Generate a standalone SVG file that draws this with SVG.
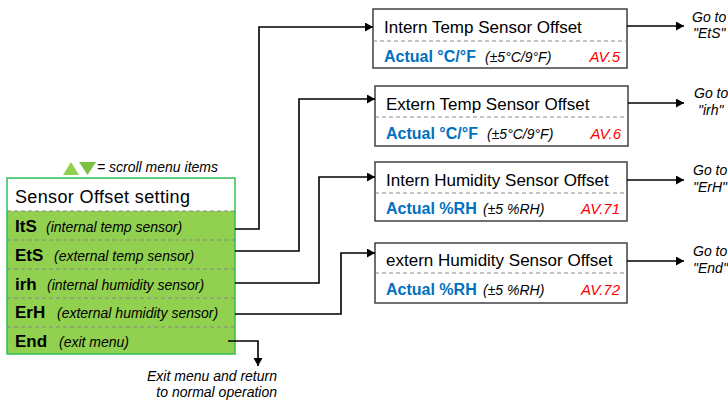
<svg xmlns="http://www.w3.org/2000/svg" width="728" height="402" viewBox="0 0 728 402">
<defs>
<marker id="ah" markerUnits="userSpaceOnUse" markerWidth="10" markerHeight="10" refX="8" refY="4.5" orient="auto">
<path d="M0,0 L8,4.5 L0,9 z" fill="#000"/>
</marker>
<style>
text{font-family:"Liberation Sans",Arial,sans-serif;}
.conn{fill:none;stroke:#000;stroke-width:1.6;marker-end:url(#ah);}
.box{fill:#fff;stroke:#404040;stroke-width:1.5;}
.dash{stroke:#888;stroke-width:1;stroke-dasharray:4,3;fill:none;}
.ttl{font-size:17px;fill:#000;}
.act{font-size:16px;font-weight:bold;fill:#0070C0;}
.rng{font-size:14px;font-style:italic;fill:#000;}
.av{font-size:15px;font-style:italic;fill:#FF0000;text-anchor:end;}
.go{font-size:14px;font-style:italic;fill:#000;}
.key{font-size:17px;font-weight:bold;fill:#000;}
.desc{font-size:14px;font-style:italic;fill:#000;}
</style>
</defs>
<rect width="728" height="402" fill="#fff"/>

<g id="menu">
<rect x="7" y="178" width="228" height="176" fill="#92D050"/>
<rect x="7" y="178" width="228" height="33" fill="#fff"/>
<line class="dash" x1="7" y1="211" x2="235" y2="211"/>
<line class="dash" x1="7" y1="240" x2="235" y2="240"/>
<line class="dash" x1="7" y1="269" x2="235" y2="269"/>
<line class="dash" x1="7" y1="298" x2="235" y2="298"/>
<line class="dash" x1="7" y1="327" x2="235" y2="327"/>
<rect x="7" y="178" width="228" height="176" fill="none" stroke="#2FBF55" stroke-width="1.5"/>
<text x="15" y="203" font-size="18" fill="#000" textLength="175">Sensor Offset setting</text>
<text x="15" y="232" class="key">ItS</text><text x="46" y="232" class="desc">(internal temp sensor)</text>
<text x="15" y="261" class="key">EtS</text><text x="54" y="261" class="desc">(external temp sensor)</text>
<text x="15" y="290" class="key">irh</text><text x="47" y="290" class="desc">(internal humidity sensor)</text>
<text x="15" y="318" class="key">ErH</text><text x="57" y="318" class="desc">(external humidity sensor)</text>
<text x="15" y="347" class="key">End</text><text x="59" y="347" class="desc">(exit menu)</text>
</g>

<g id="legend">
<polygon points="63,175 71,162 79,175" fill="#92D050"/>
<polygon points="79,162 96,162 87.5,175" fill="#7CC242"/>
<text x="97" y="172" font-size="14" font-style="italic" fill="#000">= scroll menu items</text>
</g>

<g id="exit-note">
<text x="277" y="381" font-size="14" font-style="italic" fill="#000" text-anchor="end">Exit menu and return</text>
<text x="277" y="397" font-size="14" font-style="italic" fill="#000" text-anchor="end">to normal operation</text>
</g>

<g id="box1">
<rect class="box" x="373" y="9" width="254" height="59"/>
<line class="dash" x1="373" y1="41" x2="627" y2="41"/>
<text class="ttl" x="384" y="33">Intern Temp Sensor Offset</text>
<text class="act" x="384" y="62">Actual °C/°F</text>
<text class="rng" x="485" y="62">(±5°C/9°F)</text>
<text class="av" x="620" y="62">AV.5</text>
</g>

<g id="box2">
<rect class="box" x="375" y="86" width="253" height="60"/>
<line class="dash" x1="375" y1="117" x2="628" y2="117"/>
<text class="ttl" x="386" y="110">Extern Temp Sensor Offset</text>
<text class="act" x="386" y="139">Actual °C/°F</text>
<text class="rng" x="487" y="139">(±5°C/9°F)</text>
<text class="av" x="621" y="139">AV.6</text>
</g>

<g id="box3">
<rect class="box" x="375" y="162" width="252" height="59"/>
<line class="dash" x1="375" y1="193" x2="627" y2="193"/>
<text class="ttl" x="386" y="186">Intern Humidity Sensor Offset</text>
<text class="act" x="386" y="214">Actual %RH</text>
<text class="rng" x="483" y="214">(±5 %RH)</text>
<text class="av" x="620" y="214">AV.71</text>
</g>

<g id="box4">
<rect class="box" x="375" y="243" width="252" height="60"/>
<line class="dash" x1="375" y1="273" x2="627" y2="273"/>
<text class="ttl" x="386" y="266">extern Humidity Sensor Offset</text>
<text class="act" x="386" y="295">Actual %RH</text>
<text class="rng" x="483" y="295">(±5 %RH)</text>
<text class="av" x="620" y="295">AV.72</text>
</g>

<g id="goto-labels">
<text class="go" x="692" y="22">Go to</text><text class="go" x="693" y="38">"EtS"</text>
<text class="go" x="694" y="98">Go to</text><text class="go" x="698" y="115">"irh"</text>
<text class="go" x="693" y="175">Go to</text><text class="go" x="693" y="192">"ErH"</text>
<text class="go" x="693" y="256">Go to</text><text class="go" x="693" y="273">"End"</text>
</g>

<g id="connectors">
<path class="conn" d="M235,229 H259 V27 H373"/>
<path class="conn" d="M235,251 H299 V99 H375"/>
<path class="conn" d="M235,283 H319 V177 H375"/>
<path class="conn" d="M235,314 H341 V253 H375"/>
<path class="conn" d="M228,341 H258 V366"/>
<path class="conn" d="M627,26 H684"/>
<path class="conn" d="M628,103 H684"/>
<path class="conn" d="M627,180 H684"/>
<path class="conn" d="M627,261 H684"/>
</g>
</svg>
